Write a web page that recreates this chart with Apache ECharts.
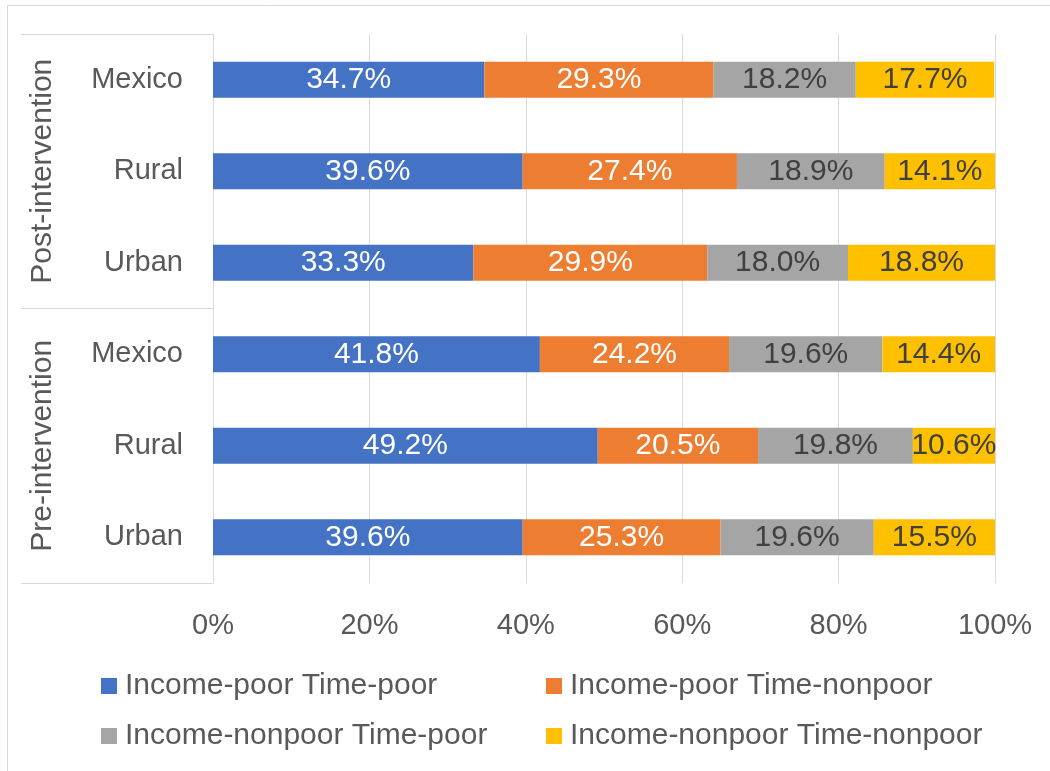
<!DOCTYPE html>
<html>
<head>
<meta charset="utf-8">
<script src="https://cdn.jsdelivr.net/npm/echarts@6/dist/echarts.min.js"></script>
<style>
  html, body { margin: 0; padding: 0; background: #ffffff; }
  #chart { width: 1050px; height: 771px; }
</style>
</head>
<body>
<div id="chart"></div>
<script>
// Outer group labels and inner row labels (rows listed top to bottom)
const groups = ['Post-intervention', 'Pre-intervention'];
const places = ['Mexico', 'Rural', 'Urban'];

const seriesNames = [
  'Income-poor Time-poor',
  'Income-poor Time-nonpoor',
  'Income-nonpoor Time-poor',
  'Income-nonpoor Time-nonpoor'
];

// Shares in percent, rows: Post Mexico, Post Rural, Post Urban, Pre Mexico, Pre Rural, Pre Urban
const poorPoor       = [34.7, 39.6, 33.3, 41.8, 49.2, 39.6];
const poorNonpoor    = [29.3, 27.4, 29.9, 24.2, 20.5, 25.3];
const nonpoorPoor    = [18.2, 18.9, 18.0, 19.6, 19.8, 19.6];
const nonpoorNonpoor = [17.7, 14.1, 18.8, 14.4, 10.6, 15.5];

const xMin = 0, xMax = 100, xStep = 20;

const colors = ['#4472C4', '#ED7D31', '#A5A5A5', '#FFC000'];
const labelColors = ['#ffffff', '#ffffff', '#404040', '#404040'];
const values = [poorPoor, poorNonpoor, nonpoorPoor, nonpoorNonpoor];

const FONT = '"Liberation Sans", Arial, sans-serif';
const FS = 29;
const TEXT = '#595959';
const LINE = '#d9d9d9';

// unique keys so that repeated place names stay separate rows
const rowKeys = [];
groups.forEach(g => places.forEach(p => rowKeys.push(g + '|' + p)));

const chart = echarts.init(document.getElementById('chart'), null, { renderer: 'canvas' });

const legendBase = {
  orient: 'horizontal',
  icon: 'rect',
  padding: 0,
  itemWidth: 16,
  itemHeight: 16,
  textStyle: { fontFamily: FONT, fontSize: 30, color: TEXT, padding: [0, 0, 0, 3] },
  selectedMode: false
};

chart.setOption({
  backgroundColor: '#ffffff',
  animation: false,
  textStyle: { fontFamily: FONT },
  graphic: [{
    type: 'rect',
    shape: { x: 7.5, y: 5.5, width: 1100, height: 900 },
    style: { fill: 'none', stroke: LINE, lineWidth: 1 },
    silent: true
  }],
  grid: { left: 213, right: 55, top: 34, bottom: 188, containLabel: false },
  legend: [
    Object.assign({ data: [seriesNames[0]], left: 101, top: 671 }, legendBase),
    Object.assign({ data: [seriesNames[1]], left: 546, top: 671 }, legendBase),
    Object.assign({ data: [seriesNames[2]], left: 101, top: 721 }, legendBase),
    Object.assign({ data: [seriesNames[3]], left: 546, top: 721 }, legendBase)
  ],
  xAxis: {
    type: 'value',
    min: xMin, max: xMax, interval: xStep,
    axisLine: { show: false },
    axisTick: { show: false },
    axisLabel: { formatter: '{value}%', fontSize: FS, color: TEXT, margin: 28 },
    splitLine: { show: true, lineStyle: { color: LINE, width: 1 } }
  },
  yAxis: [
    {
      type: 'category',
      data: rowKeys,
      inverse: true,
      position: 'left',
      axisLine: { show: true, lineStyle: { color: LINE, width: 1 } },
      axisTick: { show: false },
      axisLabel: {
        interval: 0,
        margin: 30,
        fontSize: FS,
        color: TEXT,
        padding: [4, 0, 0, 0],
        formatter: v => v.split('|')[1]
      }
    },
    {
      type: 'category',
      data: groups,
      inverse: true,
      position: 'left',
      offset: 0,
      axisLine: { show: false },
      axisTick: { show: true, interval: 0, length: 192, lineStyle: { color: LINE, width: 1 } },
      axisLabel: { interval: 0, rotate: 90, margin: 155, fontSize: 30, color: TEXT },
      splitLine: { show: false }
    }
  ],
  series: seriesNames.map((name, i) => ({
    name: name,
    type: 'bar',
    stack: 'total',
    yAxisIndex: 0,
    barWidth: 36,
    data: values[i],
    itemStyle: { color: colors[i] },
    label: {
      show: true,
      position: 'inside',
      fontSize: 30,
      fontFamily: FONT,
      color: labelColors[i],
      formatter: p => p.value.toFixed(1) + '%'
    }
  }))
});
</script>
</body>
</html>
